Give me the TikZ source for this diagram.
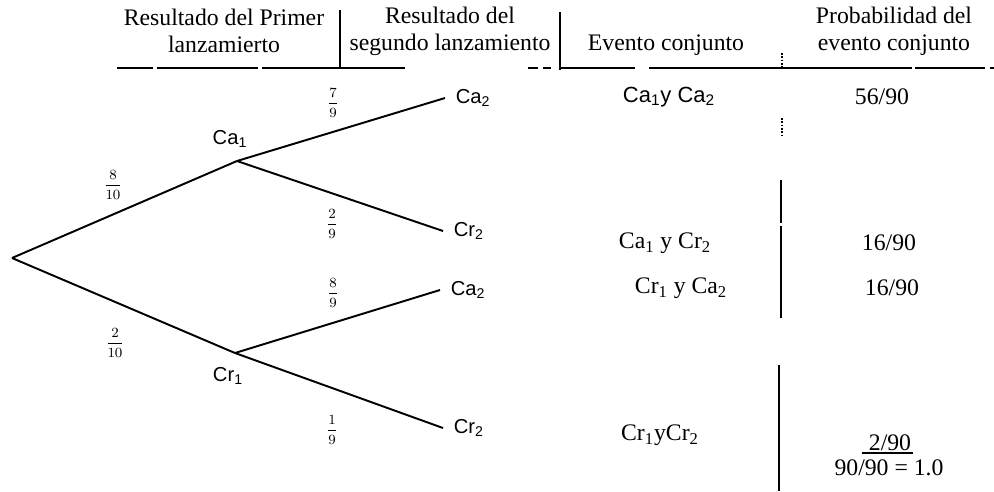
\documentclass[tikz,border=0pt]{standalone}
\usepackage{fontspec}
\setmainfont{Liberation Serif}
\newfontfamily\arialfont{Liberation Sans}
\usetikzlibrary{positioning}
\newcommand{\bfrac}[2]{$\displaystyle\frac{#1}{#2}$}
\tikzset{
  khead/.style={align=center, font=\fontsize{13.5}{15.3}\selectfont, inner sep=1pt},
  kleaf/.style={font=\arialfont\fontsize{11.5}{12}\selectfont, inner sep=1pt},
  kprob/.style={font=\fontsize{8}{9}\selectfont, inner sep=0pt},
  kevent/.style={font=\fontsize{13.5}{15}\selectfont, inner sep=1pt},
  branch/.style={line width=1.1pt},
  rule/.style={line width=0.9pt},
}

\begin{document}
\begin{tikzpicture}[x=0.02cm, y=-0.02cm]
    \useasboundingbox (0,0) rectangle (994,491);
    \node[khead] (h1) at (224,31) {Resultado del Primer\\lanzamierto};
    \node[khead] (h2) at (450,31) {Resultado del\\segundo lanzamiento};
    \node[kevent] (h3) at (666,45) {Evento conjunto};
    \node[khead] (h4) at (894,31) {Probabilidad del\\evento conjunto};
    \draw[rule] (340,10) -- (340,68);
    \draw[rule] (560,12) -- (560,70);
    \draw[rule, densely dotted] (782,53) -- (782,68);
    \draw[rule] (117,68) -- (153,68) (157,68) -- (258,68) (262,68) -- (405,68);
    \draw[rule] (528,68) -- (538,68) (543,68) -- (551,68);
    \draw[rule] (560,68) -- (635,68) (649,68) -- (912,68) (915,68) -- (985,68) (990,68) -- (994,68);
    \coordinate (root) at (12,258);
    \coordinate (ca1) at (237,161);
    \coordinate (cr1) at (235,353);
    \coordinate (ca1ca2) at (445,98);
    \coordinate (ca1cr2) at (443,231);
    \coordinate (cr1ca2) at (440,290);
    \coordinate (cr1cr2) at (443,428);
    \draw[branch] (root) -- (ca1);
    \draw[branch] (root) -- (cr1);
    \draw[branch] (ca1) -- (ca1ca2);
    \draw[branch] (ca1) -- (ca1cr2);
    \draw[branch] (cr1) -- (cr1ca2);
    \draw[branch] (cr1) -- (cr1cr2);
    \node[kleaf] (lca1) at (230,139) {Ca\textsubscript{1}};
    \node[kleaf] (lcr1) at (228,376) {Cr\textsubscript{1}};
    \node[kleaf, right=5pt of ca1ca2] (lca1ca2) {Ca\textsubscript{2}};
    \node[kleaf, right=5pt of ca1cr2] (lca1cr2) {Cr\textsubscript{2}};
    \node[kleaf, right=5pt of cr1ca2] (lcr1ca2) {Ca\textsubscript{2}};
    \node[kleaf, right=5pt of cr1cr2] (lcr1cr2) {Cr\textsubscript{2}};
    \node[kprob] (p1) at (113,185) {\bfrac{8}{10}};
    \node[kprob] (p2) at (115,343) {\bfrac{2}{10}};
    \node[kprob] (p3) at (333,103) {\bfrac{7}{9}};
    \node[kprob] (p4) at (332,224) {\bfrac{2}{9}};
    \node[kprob] (p5) at (333,293) {\bfrac{8}{9}};
    \node[kprob] (p6) at (332,430) {\bfrac{1}{9}};
    \node[kevent, font=\arialfont\fontsize{12.5}{13}\selectfont] (e1) at (669,97) {Ca\textsubscript{1}y Ca\textsubscript{2}};
    \node[kevent] (e2) at (665,243) {Ca\textsubscript{1} y Cr\textsubscript{2}};
    \node[kevent] (e3) at (681,288) {Cr\textsubscript{1} y Ca\textsubscript{2}};
    \node[kevent] (e4) at (660,435) {Cr\textsubscript{1}yCr\textsubscript{2}};
    \node[kevent] (q1) at (882,97) {56/90};
    \node[kevent] (q2) at (889,243) {16/90};
    \node[kevent] (q3) at (892,288) {16/90};
    \node[kevent] (q4) at (890,443) {2/90};
    \node[kevent] (q5) at (889,468) {90/90 = 1.0};
    \draw[rule] ([xshift=-3pt]q4.south west) -- (q4.south east);
    \draw[rule, densely dotted] (782,118) -- (782,138);
    \draw[rule] (781,180) -- (781,223) (781,226) -- (781,318);
    \draw[rule] (779,365) -- (779,491);
  \end{tikzpicture}
\end{document}
